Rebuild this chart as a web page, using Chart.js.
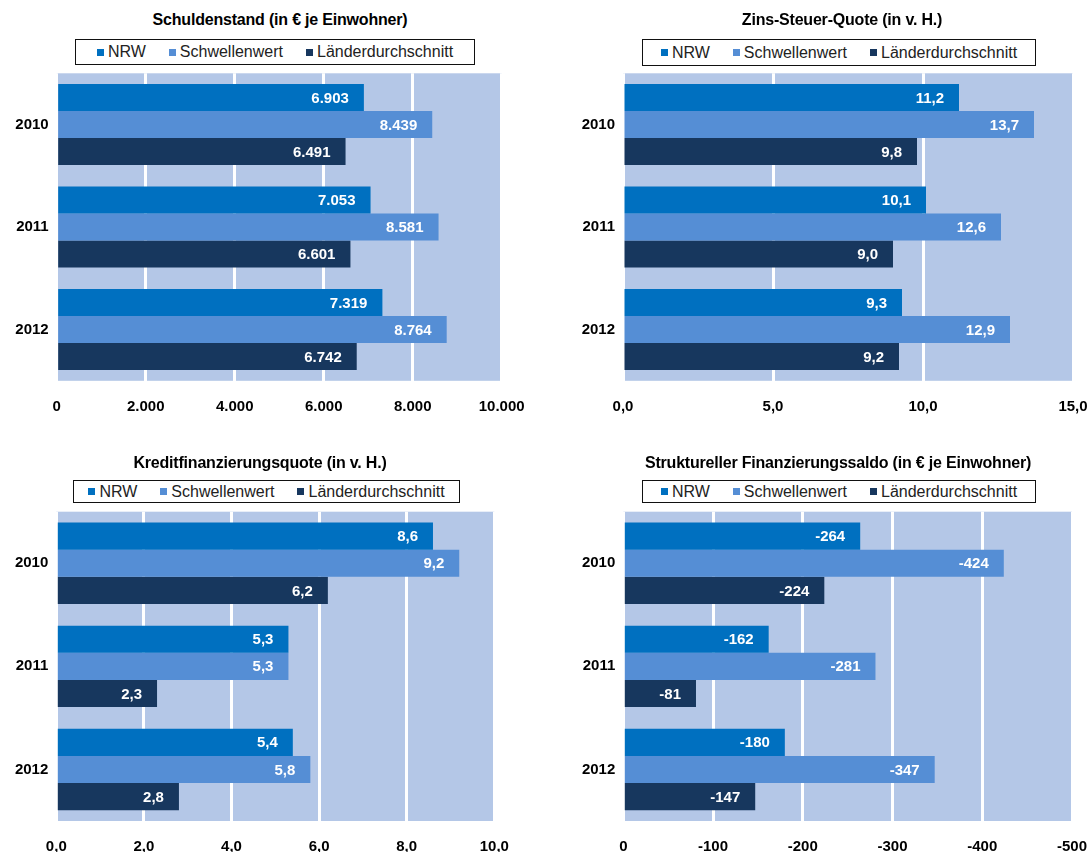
<!DOCTYPE html>
<html>
<head>
<meta charset="utf-8">
<title>Haushaltskennzahlen NRW 2010–2012</title>
<script src="https://cdn.jsdelivr.net/npm/chart.js@4.4.1/dist/chart.umd.min.js"></script>
<style>
  html, body { margin: 0; padding: 0; background: #fff; }
  #page { position: relative; width: 1090px; height: 852px; overflow: hidden;
          font-family: "Liberation Sans", Arial, sans-serif; }
  canvas { position: absolute; left: 0; top: 0; }
  .title { position: absolute; font-weight: bold; font-size: 16px; line-height: 18px; color: #000;
           white-space: nowrap; transform: translateX(-50%); letter-spacing: -0.2px; }
  .legend { position: absolute; box-sizing: border-box; border: 1.5px solid #111; background: #fff;
            display: flex; align-items: center; justify-content: center;
            font-size: 16px; color: #222; white-space: nowrap; }
  .item { display: flex; align-items: center; margin: 0 11.5px; }
  .sw { width: 7px; height: 7px; margin-right: 4px; flex: none; }
</style>
</head>
<body>
<div id="page"></div>
<script>
// Kategorien und Reihen
const years = ['2010', '2011', '2012'];
const seriesNames = ['NRW', 'Schwellenwert', 'Länderdurchschnitt'];
const seriesColors = ['#0070C0', '#558ED5', '#17375E'];

// Schuldenstand (in € je Einwohner)
const schuldenNRW      = [6903, 7053, 7319];
const schuldenSchwelle = [8439, 8581, 8764];
const schuldenLaender  = [6491, 6601, 6742];
const schuldenTicks    = [0, 2000, 4000, 6000, 8000, 10000];

// Zins-Steuer-Quote (in v. H.)
const zinsNRW      = [11.2, 10.1, 9.3];
const zinsSchwelle = [13.7, 12.6, 12.9];
const zinsLaender  = [9.8, 9.0, 9.2];
const zinsTicks    = [0, 5, 10, 15];

// Kreditfinanzierungsquote (in v. H.)
const kreditNRW      = [8.6, 5.3, 5.4];
const kreditSchwelle = [9.2, 5.3, 5.8];
const kreditLaender  = [6.2, 2.3, 2.8];
const kreditTicks    = [0, 2, 4, 6, 8, 10];

// Struktureller Finanzierungssaldo (in € je Einwohner)
const saldoNRW      = [-264, -162, -180];
const saldoSchwelle = [-424, -281, -347];
const saldoLaender  = [-224, -81, -147];
const saldoTicks    = [0, -100, -200, -300, -400, -500];

// Deutsche Zahlenformatierung: Tausenderpunkt, Dezimalkomma
function fmt(v, dec) {
  const neg = v < 0;
  const parts = Math.abs(v).toFixed(dec).split('.');
  const intPart = parts[0].replace(/\B(?=(\d{3})+(?!\d))/g, '.');
  return (neg ? '-' : '') + intPart + (parts[1] ? ',' + parts[1] : '');
}

const FONT = '"Liberation Sans", Arial, sans-serif';
const PAGE_W = 1090, CANVAS_H = 920;
const Y_AXIS_W = 50, X_AXIS_H = 50;

const panels = [
  { title: 'Schuldenstand  (in € je Einwohner)',
    series: [schuldenNRW, schuldenSchwelle, schuldenLaender], ticks: schuldenTicks, dec: 0, reverse: false,
    area: { l: 56.7, t: 73.3, r: 501.7, b: 380.8 },
    titleAt: { x: 280, y: 11 }, legendBox: { l: 75, t: 39, w: 400, h: 26 } },
  { title: 'Zins-Steuer-Quote (in v. H.)',
    series: [zinsNRW, zinsSchwelle, zinsLaender], ticks: zinsTicks, dec: 1, reverse: false,
    area: { l: 623, t: 73.3, r: 1073, b: 380.8 },
    titleAt: { x: 842, y: 11 }, legendBox: { l: 642, t: 39, w: 394, h: 27 } },
  { title: 'Kreditfinanzierungsquote (in v. H.)',
    series: [kreditNRW, kreditSchwelle, kreditLaender], ticks: kreditTicks, dec: 1, reverse: false,
    area: { l: 56.3, t: 511.7, r: 494.3, b: 821 },
    titleAt: { x: 260, y: 454 }, legendBox: { l: 73, t: 480, w: 387, h: 23 } },
  { title: 'Struktureller Finanzierungssaldo (in € je Einwohner)',
    series: [saldoNRW, saldoSchwelle, saldoLaender], ticks: saldoTicks, dec: 0, reverse: true,
    area: { l: 623.3, t: 511.7, r: 1072, b: 821 },
    titleAt: { x: 838, y: 454 }, legendBox: { l: 642, t: 480, w: 394, h: 23 } }
];

// Hellblaue Fläche hinter dem Diagrammbereich
const plotBackground = {
  id: 'plotBackground',
  beforeDraw(chart) {
    const { ctx, chartArea: a } = chart;
    ctx.save();
    ctx.fillStyle = '#B4C7E7';
    ctx.fillRect(a.left, a.top, a.right - a.left, a.bottom - a.top);
    ctx.restore();
  }
};

// Werte innen am Balkenende
function valueLabels(dec) {
  return {
    id: 'valueLabels',
    afterDatasetsDraw(chart) {
      const ctx = chart.ctx;
      ctx.save();
      ctx.font = 'bold 15px ' + FONT;
      ctx.fillStyle = '#fff';
      ctx.textAlign = 'right';
      ctx.textBaseline = 'middle';
      chart.data.datasets.forEach((ds, di) => {
        chart.getDatasetMeta(di).data.forEach((bar, i) => {
          const dir = bar.x >= bar.base ? 1 : -1;
          ctx.fillText(fmt(ds.data[i], dec), bar.x - dir * 15, bar.y + 1);
        });
      });
      ctx.restore();
    }
  };
}

const page = document.getElementById('page');

panels.forEach(p => {
  const t = document.createElement('div');
  t.className = 'title';
  t.textContent = p.title;
  t.style.left = p.titleAt.x + 'px';
  t.style.top = p.titleAt.y + 'px';
  page.appendChild(t);

  const lg = document.createElement('div');
  lg.className = 'legend';
  Object.assign(lg.style, { left: p.legendBox.l + 'px', top: p.legendBox.t + 'px',
                            width: p.legendBox.w + 'px', height: p.legendBox.h + 'px' });
  seriesNames.forEach((name, i) => {
    const it = document.createElement('span');
    it.className = 'item';
    const sw = document.createElement('span');
    sw.className = 'sw';
    sw.style.background = seriesColors[i];
    it.appendChild(sw);
    it.appendChild(document.createTextNode(name));
    lg.appendChild(it);
  });
  page.appendChild(lg);

  const canvas = document.createElement('canvas');
  canvas.width = PAGE_W;
  canvas.height = CANVAS_H;
  page.appendChild(canvas);

  const lo = Math.min(...p.ticks), hi = Math.max(...p.ticks);
  const step = Math.abs(p.ticks[1] - p.ticks[0]);

  new Chart(canvas, {
    type: 'bar',
    data: {
      labels: years,
      datasets: seriesNames.map((name, i) => ({
        label: name,
        data: p.series[i],
        backgroundColor: seriesColors[i],
        borderWidth: 0,
        categoryPercentage: 0.79,
        barPercentage: 1.0
      }))
    },
    options: {
      indexAxis: 'y',
      responsive: false,
      animation: false,
      devicePixelRatio: 1,
      layout: {
        padding: {
          left: p.area.l - Y_AXIS_W,
          right: PAGE_W - p.area.r,
          top: p.area.t,
          bottom: CANVAS_H - p.area.b - X_AXIS_H
        }
      },
      plugins: {
        legend: { display: false },
        title: { display: false },
        tooltip: { enabled: false }
      },
      scales: {
        x: {
          type: 'linear',
          min: lo, max: hi,
          reverse: p.reverse,
          afterBuildTicks(scale) { scale.ticks = p.ticks.map(v => ({ value: v })); },
          ticks: {
            stepSize: step,
            autoSkip: false,
            maxRotation: 0,
            padding: 17,
            color: '#000',
            font: { family: FONT, size: 15, weight: 'bold' },
            callback: v => fmt(v, p.dec)
          },
          grid: { color: '#ffffff', lineWidth: 3, drawTicks: false },
          border: { display: false },
          afterFit(s) { s.height = X_AXIS_H; s.paddingLeft = 0; s.paddingRight = 0; }
        },
        y: {
          type: 'category',
          ticks: { padding: 8, color: '#000', font: { family: FONT, size: 15, weight: 'bold' } },
          grid: { display: false, drawTicks: false },
          border: { display: false },
          afterFit(s) { s.width = Y_AXIS_W; s.paddingTop = 0; s.paddingBottom = 0; }
        }
      }
    },
    plugins: [plotBackground, valueLabels(p.dec)]
  });
});
</script>
</body>
</html>
